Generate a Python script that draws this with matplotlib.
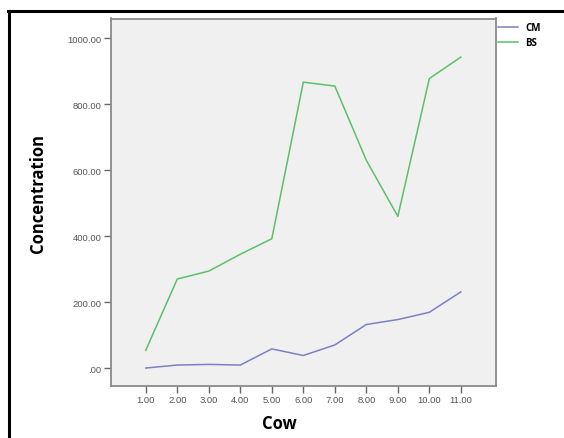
import numpy as np
import matplotlib
matplotlib.use("Agg")
import matplotlib.pyplot as plt
from matplotlib.lines import Line2D

# values
cow = [1, 2, 3, 4, 5, 6, 7, 8, 9, 10, 11]
cm = [0, 9, 11, 9, 58, 38, 70, 132, 147, 169, 231]
bs = [54, 270, 294, 345, 392, 867, 855, 630, 460, 878, 943]
yticks = [0, 200, 400, 600, 800, 1000]
ytick_labels = [".00", "200.00", "400.00", "600.00", "800.00", "1000.00"]
xtick_labels = ["%.2f" % c for c in cow]

fig = plt.figure(figsize=(5.64, 4.39), dpi=100)
fig.patch.set_facecolor("white")

W, H = 564.0, 439.0
L, R, T, B = 110.5, 495.5, 19.5, 386.5
ax = fig.add_axes([L / W, 1 - B / H, (R - L) / W, (B - T) / H])
ax.set_facecolor("#f0f0f0")

ax.plot(cow, cm, color="#7b80c2", lw=1.1, label="CM")
ax.plot(cow, bs, color="#5cc06a", lw=1.1, label="BS")

ax.set_xlim(-0.12, 12.1)
ax.set_ylim(-53, 1060)
ax.set_xticks(cow)
ax.set_xticklabels(xtick_labels)
ax.set_yticks(yticks)
ax.set_yticklabels(ytick_labels)

for s in ax.spines.values():
    s.set_color("#8a8a8a")
    s.set_linewidth(1.3)

ax.tick_params(axis="both", direction="out", length=5, width=1.0, color="#666666",
               labelsize=6.8, labelcolor="#555555", pad=1.5)
for lab in ax.get_xticklabels() + ax.get_yticklabels():
    lab.set_family("Liberation Sans")

ax.set_xlabel("Cow", fontsize=12, fontweight="bold", family="Open Sans", va="center")
ax.xaxis.set_label_coords((279 - L) / (R - L), (B - 424) / (B - T))
ax.set_ylabel("Concentration", fontsize=12, fontweight="bold", family="Open Sans", va="center")
ax.yaxis.set_label_coords((38.5 - L) / (R - L), (B - 194) / (B - T))

# legend outside the plot on the right
leg = ax.legend(loc="upper left", bbox_to_anchor=(498 / W, 1 - 23 / H),
                bbox_transform=fig.transFigure, frameon=False,
                prop={"family": "Open Sans", "weight": "bold", "size": 7},
                handlelength=2.1, handletextpad=0.7, labelspacing=0.45,
                borderpad=0, borderaxespad=0)

# black outer frame (top and left only visible)
fig.add_artist(Line2D([8 / W, 1.0], [1 - 11.5 / H, 1 - 11.5 / H],
                      transform=fig.transFigure, color="black", lw=2.2))
fig.add_artist(Line2D([9 / W, 9 / W], [0.0, 1 - 11.5 / H],
                      transform=fig.transFigure, color="black", lw=2.2))

fig.savefig("out.png", dpi=100)
